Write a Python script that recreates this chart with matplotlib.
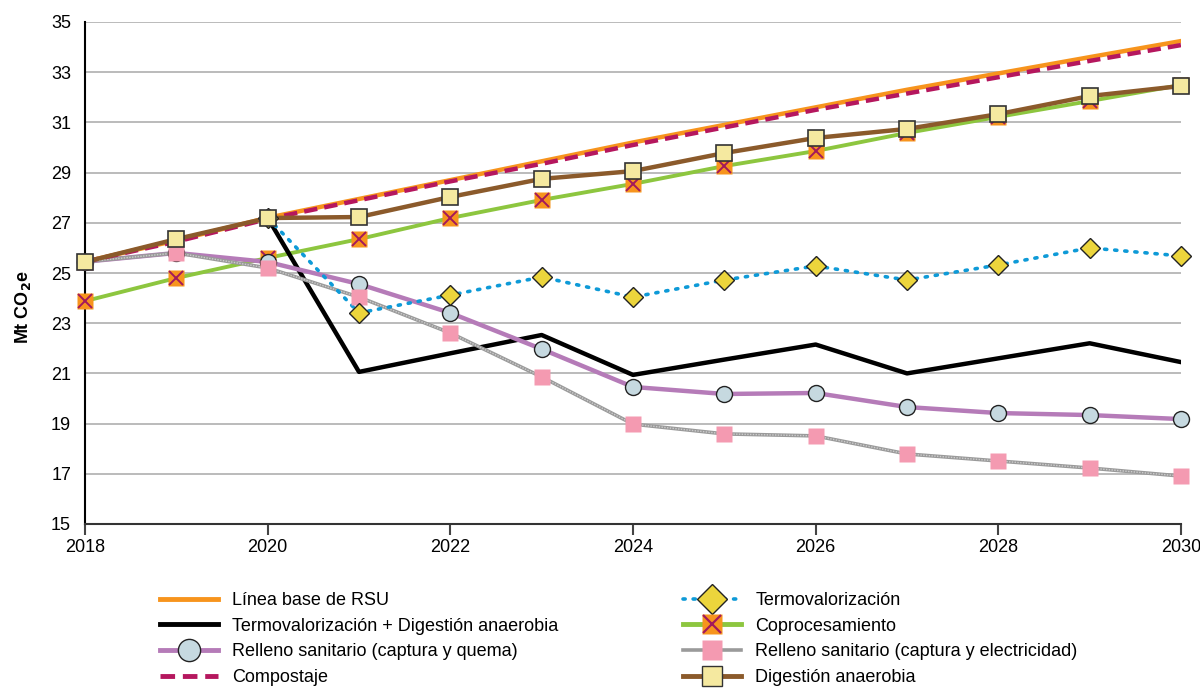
import matplotlib
matplotlib.use("Agg")
from matplotlib import pyplot as plt
from matplotlib.lines import Line2D
from matplotlib.legend_handler import HandlerTuple

plt.rcParams['font.family'] = ['Liberation Sans Narrow', 'Liberation Sans', 'DejaVu Sans']

years = list(range(2018, 2031))
years_tv = list(range(2020, 2031))

linea_base = [25.45, 26.3, 27.2, 27.95, 28.7, 29.45, 30.2, 30.9, 31.6, 32.3, 32.95, 33.6, 34.24]
compostaje = [25.45, 26.25, 27.15, 27.9, 28.65, 29.35, 30.1, 30.8, 31.5, 32.15, 32.8, 33.45, 34.08]
digestion = [25.44, 26.35, 27.19, 27.23, 28.03, 28.75, 29.06, 29.78, 30.38, 30.74, 31.33, 32.05, 32.45]
coproc = [23.88, 24.8, 25.6, 26.35, 27.19, 27.91, 28.55, 29.26, 29.86, 30.58, 31.22, 31.85, 32.49]
termo = [27.2, 23.41, 24.12, 24.84, 24.04, 24.72, 25.28, 24.72, 25.32, 26.0, 25.68]
termo_da = [27.2, 21.06, 21.8, 22.53, 20.94, 21.55, 22.15, 21.0, 21.6, 22.2, 21.45]
relleno_quema = [25.45, 25.8, 25.44, 24.56, 23.41, 21.97, 20.46, 20.18, 20.22, 19.66, 19.42, 19.34, 19.18]
relleno_elec = [25.45, 25.8, 25.2, 24.04, 22.61, 20.86, 18.98, 18.59, 18.51, 17.79, 17.51, 17.23, 16.91]

labels = ['Línea base de RSU', 'Termovalorización + Digestión anaerobia',
          'Relleno sanitario (captura y quema)', 'Compostaje',
          'Termovalorización', 'Coprocesamiento',
          'Relleno sanitario (captura y electricidad)', 'Digestión anaerobia']

c_orange = '#f7941d'
c_maroon = '#b5175e'
c_brown = '#8b5a2b'
c_green = '#8dc63f'
c_purple = '#b57bb8'
c_blue = '#0e9ad7'
c_pink = '#f49ab1'
c_grey = '#9a9a9a'
c_x = '#a3195b'

fig = plt.figure(figsize=(12, 6.89), dpi=100)
ax = fig.add_axes([85 / 1200, 1 - 524 / 689, (1181 - 85) / 1200, (524 - 22) / 689])

ax.plot(years, linea_base, color=c_orange, lw=3.2, zorder=3)
ax.plot(years, compostaje, color=c_maroon, lw=3.2, dashes=(3, 1.6), zorder=4)

ax.plot(years, coproc, color=c_green, lw=2.8, zorder=3)
ax.plot(years, coproc, ls='none', marker='s', ms=11.5, mfc=c_orange, mec='none', zorder=5, clip_on=False)
ax.plot(years, coproc, ls='none', marker='x', ms=9.5, mew=1.4, color=c_x, zorder=5, clip_on=False)

ax.plot(years_tv, termo_da, color='black', lw=3.2, zorder=3)

ax.plot(years, relleno_quema, color=c_purple, lw=3.2, zorder=3)
ax.plot(years, relleno_quema, ls='none', marker='o', ms=11.5, mfc='#c6d9e0', mec='#222222', mew=1.0,
        zorder=6, clip_on=False)

ax.plot(years, relleno_elec, color=c_grey, lw=2.6, zorder=3)
ax.plot(years, relleno_elec, color='white', lw=1.0, dashes=(1, 1), alpha=0.5, zorder=3)
ax.plot(years, relleno_elec, ls='none', marker='s', ms=12, mfc=c_pink, mec='none', zorder=7, clip_on=False)

ax.plot(years_tv, termo, color=c_blue, lw=2.6, dashes=(0.6, 2.2), dash_capstyle='round', zorder=4)
ax.plot(years_tv, termo, ls='none', marker='D', ms=10.5, mfc='#ecd53c', mec='#222222', mew=1.0,
        zorder=7, clip_on=False)

ax.plot(years, digestion, color=c_brown, lw=3.2, zorder=4)
ax.plot(years, digestion, ls='none', marker='s', ms=11.5, mfc='#f5e9a0', mec='#333333', mew=1.2,
        zorder=8, clip_on=False)

ax.set_xlim(2018, 2030)
ax.set_ylim(15, 35)
ax.set_xticks(range(2018, 2031, 2))
ax.set_yticks(range(15, 36, 2))
ax.grid(axis='y', color='#b5b5b5', lw=1.3)
ax.set_axisbelow(True)
for s in ['top', 'right']:
    ax.spines[s].set_visible(False)
ax.spines['left'].set_linewidth(1.5)
ax.spines['bottom'].set_linewidth(1.5)
ax.spines['bottom'].set_color('#333333')
ax.tick_params(axis='y', length=0, pad=10, labelsize=13)
ax.tick_params(axis='x', length=8, width=1.5, color='#444444', pad=3, labelsize=13)
ax.set_ylabel(r'Mt CO$_\mathbf{2}$e', fontsize=13, fontweight='bold')
ax.yaxis.set_label_coords(-0.047, 0.432)

h_base = Line2D([], [], color=c_orange, lw=3.5)
h_tda = Line2D([], [], color='black', lw=3.5)
h_rq = Line2D([], [], color=c_purple, lw=3.5, marker='o', ms=16, mfc='#c6d9e0', mec='#222222')
h_comp = Line2D([], [], color=c_maroon, lw=3.5, dashes=(3, 1.6))
h_tv = Line2D([], [], color=c_blue, lw=2.6, dashes=(0.6, 2.2), dash_capstyle='round',
              marker='D', ms=15, mfc='#ecd53c', mec='#222222')
h_cp = (Line2D([], [], color=c_green, lw=3.5, marker='s', ms=15, mfc=c_orange, mec='none'),
        Line2D([], [], ls='none', marker='x', ms=13, mew=1.6, color=c_x))
h_re = Line2D([], [], color=c_grey, lw=2.6, marker='s', ms=15, mfc=c_pink, mec='none')
h_da = Line2D([], [], color=c_brown, lw=3.5, marker='s', ms=15, mfc='#f5e9a0', mec='#333333')

kw = dict(frameon=False, fontsize=13, handlelength=3.2, handletextpad=0.8, labelspacing=0.48,
          borderpad=0, borderaxespad=0, numpoints=1,
          handler_map={tuple: HandlerTuple(ndivide=1, pad=0)})
leg1 = fig.legend([h_base, h_tda, h_rq, h_comp], labels[:4], loc='upper left',
                  bbox_to_anchor=(160 / 1200, 1 - 592 / 689), **kw)
leg2 = fig.legend([h_tv, h_cp, h_re, h_da], labels[4:], loc='upper left',
                  bbox_to_anchor=(683 / 1200, 1 - 592 / 689), **kw)

fig.savefig('out.png', dpi=100)
